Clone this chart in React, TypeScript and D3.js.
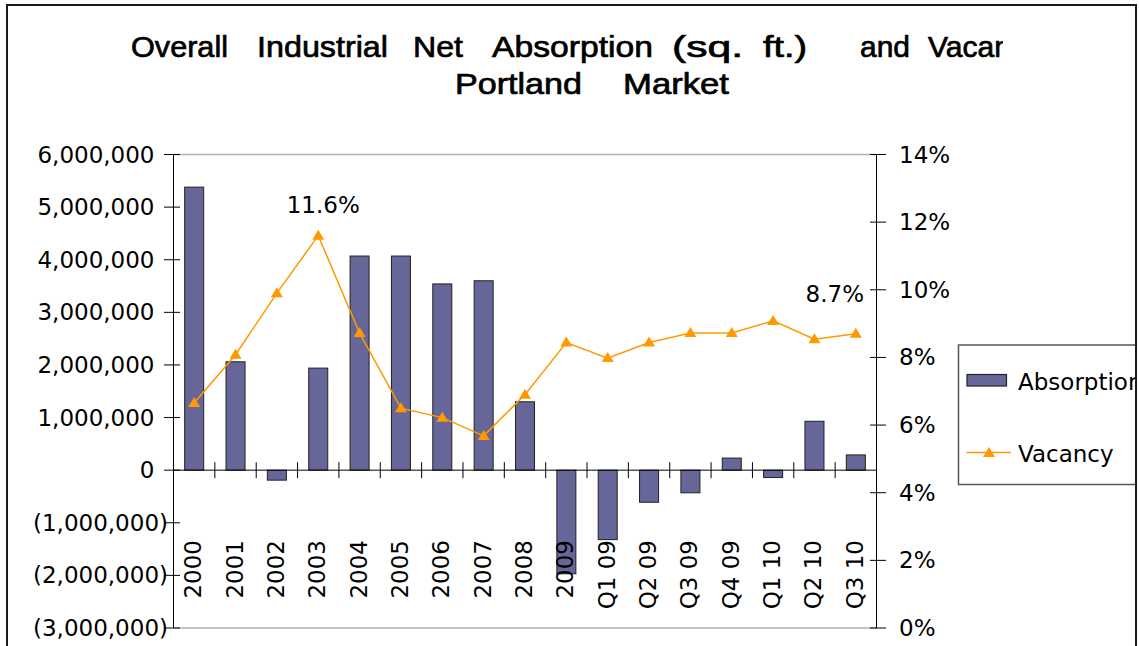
import React from "react";
import * as d3 from "d3";

const categories = ["2000","2001","2002","2003","2004","2005","2006","2007","2008","2009","Q1 09","Q2 09","Q3 09","Q4 09","Q1 10","Q2 10","Q3 10"];
const absorption = [5380000,2060000,-190000,1940000,4070000,4070000,3540000,3600000,1300000,-1970000,-1320000,-610000,-430000,230000,-140000,930000,290000];
const vacancy = [6.65,8.08,9.9,11.6,8.72,6.5,6.22,5.68,6.9,8.44,7.98,8.44,8.72,8.72,9.08,8.54,8.7];
const leftTicks = [-3000000,-2000000,-1000000,0,1000000,2000000,3000000,4000000,5000000,6000000];
const rightTicks = [0,2,4,6,8,10,12,14];
const titleLine1 = ["Overall","Industrial","Net","Absorption","(sq.","ft.)","and","Vacancy"];
const titleLine2 = ["Portland","Market"];
const seriesNames = ["Absorption","Vacancy"];

const FONT = "DejaVu Sans, Verdana, sans-serif";
const TFONT = "Liberation Sans, Arial, sans-serif";

export default function App() {
  const x0 = 173.5, x1 = 876.5, yTop = 154.5, yBot = 628;
  const x = d3.scaleBand<string>().domain(categories).range([x0, x1]).padding(0);
  const yL = d3.scaleLinear().domain([-3000000, 6000000]).range([yBot, yTop]);
  const yR = d3.scaleLinear().domain([0, 14]).range([yBot, yTop]);
  const bw = x.bandwidth();
  const barW = bw * 0.46;
  const cx = (c: string) => (x(c) as number) + bw / 2;
  const fmt = d3.format(",");
  const leftLabel = (v: number) => (v < 0 ? `(${fmt(-v)})` : fmt(v));
  const line = d3.line<number>().x((_, i) => cx(categories[i])).y((v) => yR(v));
  const tri = (px: number, py: number) => `M${px},${py - 6}L${px + 6},${py + 4}L${px - 6},${py + 4}Z`;

  // title word layout (start x, width)
  const t1pos = [[131, 97], [257, 131], [413, 50], [492, 161], [672, 71], [763, 44], [860, 50], [928, 0]];
  const t2pos = [[455, 127], [623, 106]];

  const zeroY = yL(0);
  return (
    <svg width={1139} height={646} style={{ position: "absolute", left: 0, top: 0, background: "#fff" }}>
      <defs>
        <clipPath id="titleClip"><rect x={0} y={0} width={1003} height={120} /></clipPath>
        <clipPath id="legClip"><rect x={0} y={0} width={1135} height={646} /></clipPath>
      </defs>
      <rect x={7} y={5} width={1129} height={700} fill="#fff" stroke="#1a1a1a" strokeWidth={2} />

      {/* title */}
      <g clipPath="url(#titleClip)" fontFamily={TFONT} fontWeight="normal" fontSize={30} fill="#000" stroke="#000" strokeWidth={0.7}>
        {titleLine1.map((w, i) => (
          <text key={w} x={t1pos[i][0]} y={56.5} {...(t1pos[i][1] ? { textLength: t1pos[i][1], lengthAdjust: "spacingAndGlyphs" } : {})}>{w}</text>
        ))}
        {titleLine2.map((w, i) => (
          <text key={w} x={t2pos[i][0]} y={93.5} textLength={t2pos[i][1]} lengthAdjust="spacingAndGlyphs">{w}</text>
        ))}
      </g>

      {/* plot frame */}
      <line x1={x0} x2={x1} y1={yTop} y2={yTop} stroke="#b0b0b0" strokeWidth={1.5} />
      <line x1={x0} x2={x1} y1={yBot} y2={yBot} stroke="#b0b0b0" strokeWidth={1.5} />

      {/* bars */}
      {absorption.map((v, i) => {
        const c = categories[i];
        const y = Math.min(yL(v), zeroY);
        const h = Math.abs(yL(v) - zeroY);
        return <rect key={c} x={cx(c) - barW / 2} y={y} width={barW} height={h} fill="#666699" stroke="#222" strokeWidth={1} />;
      })}

      {/* zero line */}
      <line x1={x0} x2={x1} y1={zeroY} y2={zeroY} stroke="#000" strokeWidth={1} />
      {categories.slice(1).map((c) => (
        <line key={c} x1={x(c) as number} x2={x(c) as number} y1={zeroY - 8} y2={zeroY + 8} stroke="#000" strokeWidth={1} />
      ))}

      {/* left axis */}
      <line x1={x0} x2={x0} y1={yTop} y2={yBot} stroke="#000" strokeWidth={1} />
      {leftTicks.map((v) => (
        <g key={v}>
          <line x1={x0 - 9.5} x2={x0 + 6.5} y1={yL(v)} y2={yL(v)} stroke="#000" strokeWidth={1} />
          <text x={v < 0 ? 168 : 154.5} y={yL(v) + 8} textAnchor="end" fontFamily={FONT} fontSize={23} fill="#000">{leftLabel(v)}</text>
        </g>
      ))}

      {/* right axis */}
      <line x1={x1} x2={x1} y1={yTop} y2={yBot} stroke="#000" strokeWidth={1} />
      {rightTicks.map((v) => (
        <g key={v}>
          <line x1={x1 - 6.5} x2={x1 + 9.5} y1={yR(v)} y2={yR(v)} stroke="#000" strokeWidth={1} />
          <text x={899} y={yR(v) + 8} fontFamily={FONT} fontSize={23} fill="#000">{v}%</text>
        </g>
      ))}

      {/* vacancy line */}
      <path d={line(vacancy) as string} fill="none" stroke="#FF9900" strokeWidth={1.5} />
      {vacancy.map((v, i) => (
        <path key={i} d={tri(cx(categories[i]), yR(v))} fill="#FF9900" />
      ))}

      {/* data labels */}
      <text x={cx(categories[3]) + 5} y={yR(vacancy[3]) - 23} textAnchor="middle" fontFamily={FONT} fontSize={23} fill="#000">{vacancy[3].toFixed(1)}%</text>
      <text x={cx(categories[16]) - 21} y={yR(vacancy[16]) - 32} textAnchor="middle" fontFamily={FONT} fontSize={23} fill="#000">{vacancy[16].toFixed(1)}%</text>

      {/* x labels */}
      {categories.map((c) => (
        <text key={c} transform={`translate(${cx(c) + 7},540) rotate(-90)`} textAnchor="end" fontFamily={FONT} fontSize={23} fill="#000">{c}</text>
      ))}

      {/* legend */}
      <g clipPath="url(#legClip)">
        <rect x={958.5} y={345} width={200} height={139.5} fill="#fff" stroke="#555" strokeWidth={1.5} />
        <rect x={967} y={374.5} width={39.5} height={11.5} fill="#666699" stroke="#222" strokeWidth={1.2} />
        <text x={1018} y={390} fontFamily={FONT} fontSize={23} fill="#000">{seriesNames[0]}</text>
        <line x1={966.5} x2={1011} y1={452.5} y2={452.5} stroke="#FF9900" strokeWidth={1.5} />
        <path d={tri(989, 453)} fill="#FF9900" />
        <text x={1018} y={461.5} fontFamily={FONT} fontSize={23} fill="#000">{seriesNames[1]}</text>
      </g>
      <line x1={1136} x2={1136} y1={5} y2={646} stroke="#1a1a1a" strokeWidth={2} />
    </svg>
  );
}
